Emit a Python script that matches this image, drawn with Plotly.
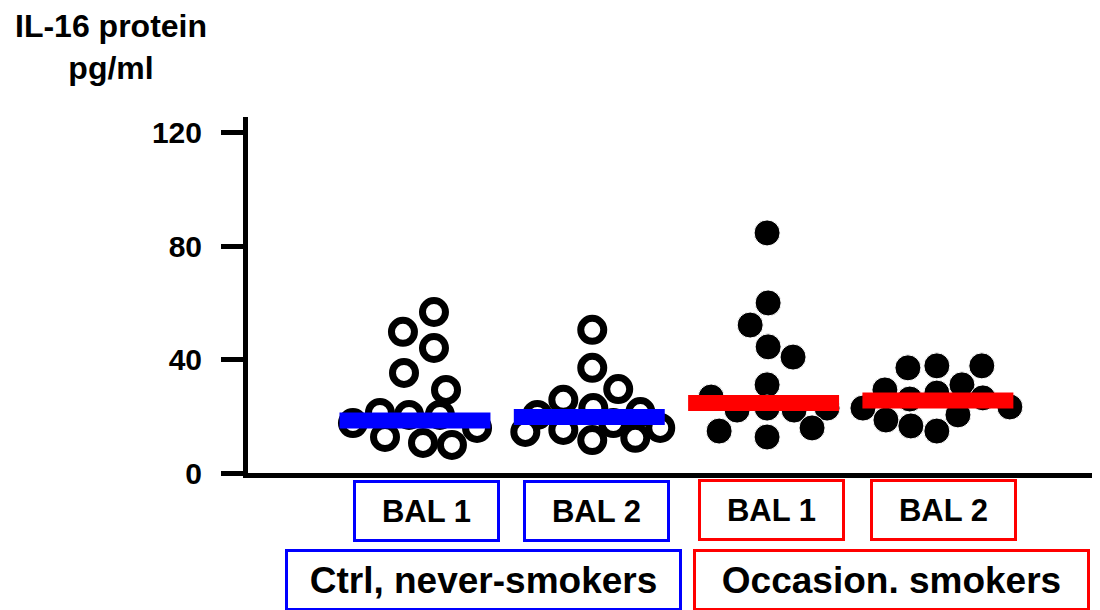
import plotly.graph_objects as go

# ---------------- data ----------------
groups = ["Ctrl BAL 1", "Ctrl BAL 2", "Occasion BAL 1", "Occasion BAL 2"]
group_pos = [0, 1, 2, 3]

g1_offset = [0.109, -0.069, 0.109, -0.063, 0.178, -0.356, -0.201, -0.034, 0.143, 0.356, -0.172, 0.046, 0.212]
g1_values = [56.8, 49.8, 44.1, 35.3, 29.3, 17.6, 21.2, 20.5, 20.5, 15.9, 12.7, 10.6, 9.9]

g2_offset = [0.017, 0.017, 0.166, -0.149, -0.298, 0.023, 0.293, -0.367, -0.149, 0.017, 0.138, 0.264, 0.407]
g2_values = [50.5, 37.1, 29.6, 25.8, 20.5, 22.9, 21.5, 14.5, 15.2, 11.6, 17.6, 12.4, 15.9]

g3_offset = [0.020, 0.026, -0.077, 0.026, 0.169, 0.020, -0.301, -0.152, 0.020, 0.175, 0.364, -0.255, 0.020, 0.278]
g3_values = [84.7, 60.0, 52.2, 44.5, 40.9, 31.1, 26.8, 22.2, 22.9, 22.2, 22.9, 14.8, 12.7, 15.9]

g4_offset = [-0.172, -0.006, 0.252, -0.304, -0.161, -0.006, 0.138, 0.258, -0.430, -0.298, -0.155, -0.006, 0.115, 0.413]
g4_values = [37.1, 37.8, 37.8, 29.3, 26.1, 28.2, 31.1, 26.5, 22.9, 18.7, 16.6, 14.8, 20.5, 23.3]

group_means = [18.5, 19.8, 24.7, 25.6]

y_tick_vals = [0, 40, 80, 120]
y_tick_text = ["0", "40", "80", "120"]

y_title = "IL-16 protein<br>pg/ml"
sub_labels = ["BAL 1", "BAL 2", "BAL 1", "BAL 2"]
cohort_labels = ["Ctrl, never-smokers", "Occasion. smokers"]

# ---------------- styling / layout helpers ----------------
# the page body adds an 8px margin; work in reference-pixel coordinates and shift
OFF = 8
W, H = 1100 - OFF, 610 - OFF
L, R, T, B = 248 - OFF, 0, 117 - OFF, 610 - 473
PW, PH = W - L - R, H - T - B
FONT = "Liberation Sans, Arial, Helvetica, sans-serif"
BLUE = "#0000ff"
RED = "#ff0000"


def px_x(px):
    # px given in reference (viewport) pixels
    return (px - OFF - L) / PW


def px_y(py):
    return (H - B - (py - OFF)) / PH


fig = go.Figure()

offsets = [g1_offset, g2_offset, g3_offset, g4_offset]
values = [g1_values, g2_values, g3_values, g4_values]

for i, (off, val) in enumerate(zip(offsets, values)):
    xs = [group_pos[i] + o for o in off]
    if i < 2:
        marker = dict(symbol="circle", size=23, color="white",
                      line=dict(color="black", width=7))
    else:
        marker = dict(symbol="circle", size=26, color="black",
                      line=dict(color="white", width=1))
    fig.add_trace(go.Scatter(x=xs, y=val, mode="markers", marker=marker,
                             name=groups[i], hoverinfo="y"))

half = 0.433
for i, m in enumerate(group_means):
    col = BLUE if i < 2 else RED
    fig.add_trace(go.Scatter(x=[group_pos[i] - half, group_pos[i] + half], y=[m, m],
                             mode="lines", line=dict(color=col, width=16),
                             hoverinfo="y", name=groups[i] + " mean"))

annotations = []
annotations.append(dict(
    text="<b>" + y_title + "</b>", xref="paper", yref="paper",
    x=px_x(111), y=px_y(47), xanchor="center", yanchor="middle",
    showarrow=False, align="center",
    font=dict(family=FONT, size=32, color="black")))

box_specs = [
    (426.5, 511, 147, 62, BLUE),
    (596.5, 511, 147, 62, BLUE),
    (771.5, 509.5, 147, 62, RED),
    (943, 509.5, 147, 62, RED),
]
for lab, (cx, cy, bw, bh, col) in zip(sub_labels, box_specs):
    annotations.append(dict(
        text="<b>" + lab + "</b>", xref="paper", yref="paper",
        x=px_x(cx), y=px_y(cy), xanchor="center", yanchor="middle",
        showarrow=False, width=bw - 6, height=bh - 6,
        bordercolor=col, borderwidth=3, borderpad=0, bgcolor="white",
        font=dict(family=FONT, size=31, color="black")))

cohort_specs = [
    (483.5, 580, 397, 62, BLUE),
    (891.5, 580, 397, 62, RED),
]
for lab, (cx, cy, bw, bh, col) in zip(cohort_labels, cohort_specs):
    annotations.append(dict(
        text="<b>" + lab + "</b>", xref="paper", yref="paper",
        x=px_x(cx), y=px_y(cy), xanchor="center", yanchor="middle",
        showarrow=False, width=bw - 6, height=bh - 6,
        bordercolor=col, borderwidth=3, borderpad=0, bgcolor="white",
        font=dict(family=FONT, size=37, color="black")))

fig.update_layout(
    width=W, height=H, autosize=False,
    margin=dict(l=L, r=R, t=T, b=B, pad=0),
    paper_bgcolor="white", plot_bgcolor="white",
    showlegend=False,
    annotations=annotations,
    xaxis=dict(range=[-0.958, 3.930], showline=True, linewidth=5, linecolor="black",
               showticklabels=False, ticks="", showgrid=False, zeroline=False),
    yaxis=dict(range=[0, 125.6], tickvals=y_tick_vals, ticktext=y_tick_text,
               ticks="outside", ticklen=22, tickwidth=5, tickcolor="black",
               showline=True, linewidth=5, linecolor="black",
               showgrid=False, zeroline=False, ticklabelstandoff=13,
               tickfont=dict(family=FONT, size=30, color="black", weight="bold")),
)

fig.write_html("out.html")
